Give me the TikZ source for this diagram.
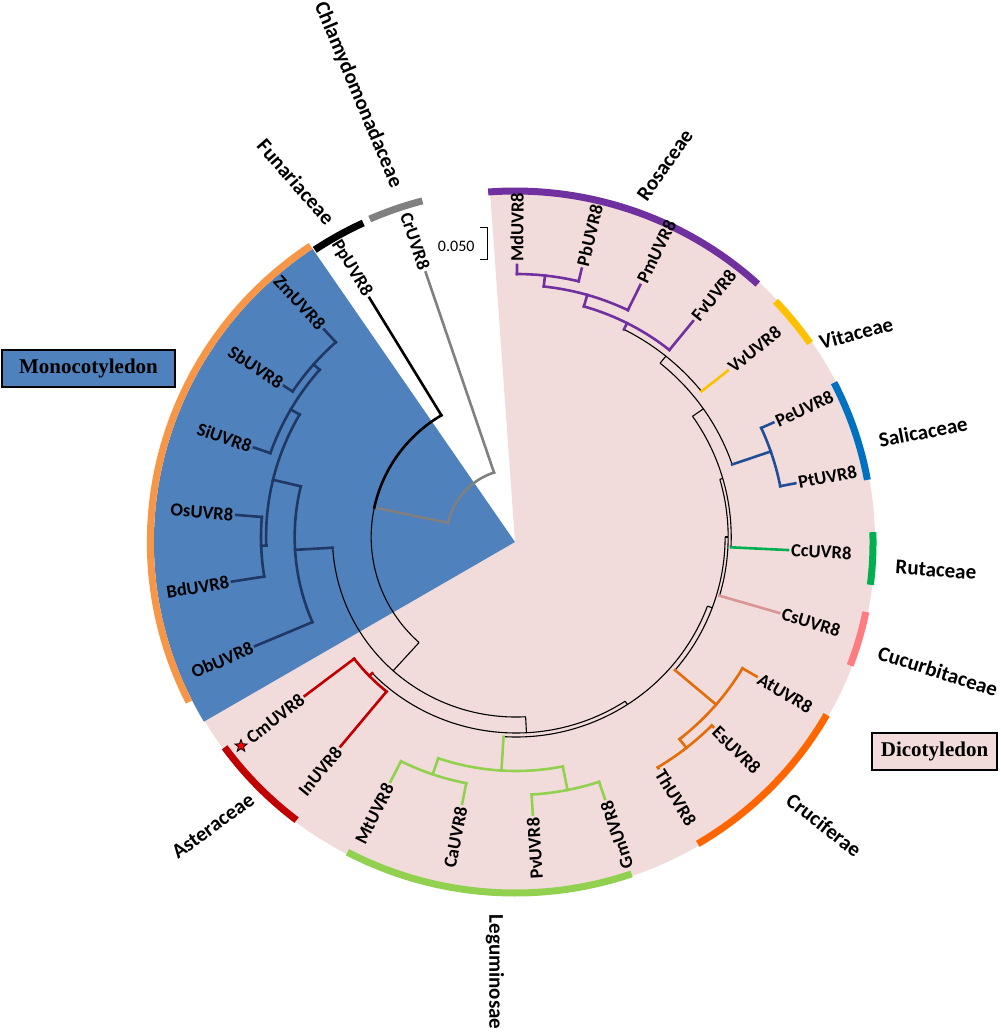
\documentclass[tikz,border=0pt]{standalone}
\usepackage{fontspec}
\setmainfont{Carlito}
\newfontfamily\boxfont{Liberation Serif}
\usetikzlibrary{shapes.geometric}

\definecolor{pinkbg}{HTML}{F2DCDB}
\definecolor{monofill}{HTML}{4F81BD}
\definecolor{monoline}{HTML}{1F3864}
\definecolor{monobar}{HTML}{F79646}
\definecolor{rosa}{HTML}{7030A0}
\definecolor{vita}{HTML}{FFC000}
\definecolor{salibar}{HTML}{0070C0}
\definecolor{saliline}{HTML}{1F4E96}
\definecolor{ruta}{HTML}{00B050}
\definecolor{cuculine}{HTML}{D99694}
\definecolor{cucubar}{HTML}{FF7C80}
\definecolor{cruciline}{HTML}{E46C0A}
\definecolor{crucibar}{HTML}{FF6600}
\definecolor{legu}{HTML}{92D050}
\definecolor{aster}{HTML}{C00000}
\definecolor{chlamy}{HTML}{808080}

\tikzset{
  twig/.style={line width=1.1pt},
  clade/.style={line width=2.6pt, line cap=rect},
  famring/.style={line width=7pt},
  leaf/.style={font=\fontsize{18.5}{18.5}\selectfont\bfseries, inner sep=3pt},
  family/.style={font=\fontsize{21}{21}\selectfont\bfseries, inner sep=0pt},
  groupbox/.style={draw=black, line width=1.6pt, minimum height=37pt, inner sep=0pt,
    font=\boxfont\fontsize{21}{21}\selectfont\bfseries}
}
% radial branch: style, angle, r from, r to
\newcommand{\radbr}[4]{\draw[#1] (#2:#3) -- (#2:#4);}
% node arc: style, start angle, end angle, radius
\newcommand{\arcbr}[4]{\draw[#1] (#2:#4) arc[start angle=#2, end angle=#3, radius=#4];}
% family ring: colour, start, end, radius
\newcommand{\famarc}[4]{\draw[famring, #1] (#2:#4) arc[start angle=#2, end angle=#3, radius=#4];}

\begin{document}
\begin{tikzpicture}[x=1pt, y=1pt]
  \useasboundingbox (0,0) rectangle (1000,-1032);

  % background sectors and family rings
  \begin{scope}[shift={(515,-542)}, xscale=1.02]
    \fill[pinkbg] (0,0) -- (94:353) arc[start angle=94, end angle=-149.5, radius=353] -- cycle;
    \fill[monofill] (0,0) -- (124.1:354) arc[start angle=124.1, end angle=210.5, radius=354] -- cycle;
    \famarc{rosa}{47.3}{94.3}{351}
    \famarc{vita}{34.5}{43.3}{351}
    \famarc{salibar}{10.2}{27}{351}
    \famarc{ruta}{-7}{1.6}{351}
    \famarc{cucubar}{-20.6}{-11.5}{351}
    \famarc{crucibar}{-59.3}{-29.5}{351}
    \famarc{legu}{-117.9}{-71}{351}
    \famarc{aster}{-144.2}{-127.6}{351}
    \famarc{monobar}{124.1}{206.6}{357.5}
    \famarc{black}{115}{123.9}{352}
    \famarc{chlamy}{104.9}{113.8}{353}
  \end{scope}

  % the tree
  \begin{scope}[shift={(516,-537)}, xscale=1.02]
    % root, Cr and Pp
    \arcbr{clade, chlamy}{108.5}{168}{68}
    \radbr{clade, chlamy}{168}{68}{142}
    \arcbr{clade, black}{121}{168}{142}
    \arcbr{twig}{168}{228}{142}
    \radbr{twig}{228}{142}{180}
    \arcbr{twig}{183.4}{273}{180}
    % monocots
    \radbr{clade, monoline}{183.4}{180}{217}
    \arcbr{clade, monoline}{166.5}{203.1}{217}
    \radbr{clade, monoline}{166.5}{217}{245}
    \arcbr{clade, monoline}{150}{182}{245}
    \radbr{clade, monoline}{182}{245}{250}
    \arcbr{clade, monoline}{175.4}{189.1}{250}
    \radbr{clade, monoline}{150}{245}{255}
    \arcbr{clade, monoline}{139}{160.8}{255}
    \radbr{clade, monoline}{139}{255}{263}
    \arcbr{clade, monoline}{132.2}{146.4}{263}
    % dicot backbone
    \radbr{twig}{273}{180}{196}
    \arcbr{twig}{224}{303.1}{196}
    \radbr{twig}{303.1}{196}{200}
    \arcbr{twig}{266.5}{339.8}{200}
    \radbr{twig}{339.8}{200}{205}
    \arcbr{twig}{319.5}{360}{205}
    \radbr{twig}{360}{205}{208}
    \arcbr{twig}{343.6}{376.1}{208}
    \radbr{twig}{16.1}{208}{211}
    \arcbr{twig}{-2.8}{34.9}{211}
    \radbr{twig}{34.9}{211}{224}
    \arcbr{twig}{18.9}{50.9}{224}
    \radbr{twig}{50.9}{224}{233}
    \arcbr{twig}{38.7}{63}{233}
    % Asteraceae
    \radbr{clade, aster}{224}{196}{200}
    \arcbr{clade, aster}{217.5}{230.6}{200}
    % Leguminosae
    \radbr{clade, legu}{266.5}{200}{234}
    \arcbr{clade, legu}{251}{281.3}{234}
    \radbr{clade, legu}{251}{234}{251}
    \arcbr{clade, legu}{243.3}{258.8}{251}
    \radbr{clade, legu}{281.3}{234}{258}
    \arcbr{clade, legu}{273.4}{288.4}{258}
    % Cruciferae
    \radbr{clade, cruciline}{319.5}{205}{258}
    \arcbr{clade, cruciline}{308.4}{329.4}{258}
    \radbr{clade, cruciline}{308.4}{258}{269}
    \arcbr{clade, cruciline}{301.1}{315.5}{269}
    % Salicaceae
    \radbr{clade, saliline}{18.9}{224}{264}
    \arcbr{clade, saliline}{11.1}{24.4}{264}
    % Rosaceae
    \radbr{clade, rosa}{63}{233}{240}
    \arcbr{clade, rosa}{51.2}{73.9}{240}
    \radbr{clade, rosa}{73.9}{240}{252}
    \arcbr{clade, rosa}{64.2}{83.8}{252}
    \radbr{clade, rosa}{83.8}{252}{263}
    \arcbr{clade, rosa}{76.5}{89.8}{263}

    % leaves reading outwards
    \node[leaf, anchor=west, rotate=89.8] (md) at (89.8:272) {MdUVR8};
    \node[leaf, anchor=west, rotate=76.5] (pb) at (76.5:276) {PbUVR8};
    \node[leaf, anchor=west, rotate=64.2] (pm) at (64.2:280) {PmUVR8};
    \node[leaf, anchor=west, rotate=51.2] (fv) at (51.2:277) {FvUVR8};
    \node[leaf, anchor=west, rotate=38.7] (vv) at (38.7:266) {VvUVR8};
    \node[leaf, anchor=west, rotate=24.4] (pe) at (24.4:277) {PeUVR8};
    \node[leaf, anchor=west, rotate=11.1] (pt) at (11.1:279) {PtUVR8};
    \node[leaf, anchor=west, rotate=-2.8] (cc) at (-2.8:267) {CcUVR8};
    \node[leaf, anchor=west, rotate=-16.4] (cs) at (-16.4:269) {CsUVR8};
    \node[leaf, anchor=west, rotate=-30.6] (at) at (-30.6:274) {AtUVR8};
    \node[leaf, anchor=west, rotate=-44.5] (es) at (-44.5:271) {EsUVR8};
    \node[leaf, anchor=west, rotate=-58.9] (th) at (-58.9:270) {ThUVR8};
    % leaves reading inwards
    \node[leaf, anchor=east, rotate=108.4] (gm) at (288.4:276) {GmUVR8};
    \node[leaf, anchor=east, rotate=93.4] (pv) at (273.4:278) {PvUVR8};
    \node[leaf, anchor=east, rotate=78.8] (ca) at (258.8:272) {CaUVR8};
    \node[leaf, anchor=east, rotate=63.3] (mt) at (243.3:274) {MtUVR8};
    \node[leaf, anchor=east, rotate=50.6] (in) at (230.6:271) {InUVR8};
    \node[leaf, anchor=east, rotate=37.5] (cm) at (217.5:261) {CmUVR8};
    \node[leaf, anchor=east, rotate=23.1] (ob) at (203.1:278) {ObUVR8};
    \node[leaf, anchor=east, rotate=9.1] (bd) at (189.1:282) {BdUVR8};
    \node[leaf, anchor=east, rotate=-4.6] (os) at (175.4:275) {OsUVR8};
    \node[leaf, anchor=east, rotate=-19.2] (si) at (160.8:272) {SiUVR8};
    \node[leaf, anchor=east, rotate=-33.6] (sb) at (146.4:273) {SbUVR8};
    \node[leaf, anchor=east, rotate=-47.8] (zm) at (132.2:280) {ZmUVR8};
    \node[leaf, anchor=east, rotate=-59] (pp) at (121:279) {PpUVR8};
    \node[leaf, anchor=east, rotate=-71.5] (cr) at (108.5:279) {CrUVR8};

    % terminal branches
    \draw[clade, rosa] (89.8:263) -- (md.west);
    \draw[clade, rosa] (76.5:263) -- (pb.west);
    \draw[clade, rosa] (64.2:252) -- (pm.west);
    \draw[clade, rosa] (51.2:240) -- (fv.west);
    \draw[clade, vita] (38.7:233) -- (vv.west);
    \draw[clade, saliline] (24.4:264) -- (pe.west);
    \draw[clade, saliline] (11.1:264) -- (pt.west);
    \draw[clade, ruta] (-2.8:211) -- (cc.west);
    \draw[clade, cuculine] (-16.4:208) -- (cs.west);
    \draw[clade, cruciline] (-30.6:258) -- (at.west);
    \draw[clade, cruciline] (-44.5:269) -- (es.west);
    \draw[clade, cruciline] (-58.9:269) -- (th.west);
    \draw[clade, legu] (288.4:258) -- (gm.east);
    \draw[clade, legu] (273.4:258) -- (pv.east);
    \draw[clade, legu] (258.8:251) -- (ca.east);
    \draw[clade, legu] (243.3:251) -- (mt.east);
    \draw[clade, aster] (230.6:200) -- (in.east);
    \draw[clade, aster] (217.5:200) -- (cm.east);
    \draw[clade, monoline] (203.1:217) -- (ob.east);
    \draw[clade, monoline] (189.1:250) -- (bd.east);
    \draw[clade, monoline] (175.4:250) -- (os.east);
    \draw[clade, monoline] (160.8:255) -- (si.east);
    \draw[clade, monoline] (146.4:263) -- (sb.east);
    \draw[clade, monoline] (132.2:263) -- (zm.east);
    \draw[clade, black] (121:142) -- (pp.east);
    \draw[clade, chlamy] (108.5:68) -- (cr.east);
  \end{scope}

  \node[star, star points=5, star point ratio=2.4, fill=red, draw=black, line width=0.8pt,
    minimum size=13pt, inner sep=0pt] (cmstar) at (241,-746) {};

  % family names
  \node[family, rotate=-67.3] (chl) at (358,-95) {Chlamydomonadaceae};
  \node[family, rotate=-49] (fun) at (296,-182) {Funariaceae};
  \node[family, rotate=55] (ros) at (665,-165) {Rosaceae};
  \node[family, rotate=15] (vit) at (856,-333) {Vitaceae};
  \node[family, rotate=11] (sal) at (923,-432) {Salicaceae};
  \node[family, rotate=-4] (rut) at (936,-570) {Rutaceae};
  \node[family, rotate=-17.7] (cuc) at (938,-671) {Cucurbitaceae};
  \node[family, rotate=-38] (cru) at (824,-825) {Cruciferae};
  \node[family, rotate=-90] (leg) at (495,-972) {Leguminosae};
  \node[family, rotate=36] (ast) at (213,-826) {Asteraceae};

  % group boxes
  \node[groupbox, fill=monofill, minimum width=173pt] (mono) at (88.5,-368.5) {Monocotyledon};
  \node[groupbox, fill=pinkbg, minimum width=125pt] (dico) at (934.5,-751.5) {Dicotyledon};

  % scale bar
  \node[font=\fontsize{16}{16}\selectfont, anchor=east] (scale) at (478,-246) {0.050};
  \draw[line width=1pt] (480,-228) -- (487,-228) -- (487,-259) -- (480,-259);
\end{tikzpicture}
\end{document}
